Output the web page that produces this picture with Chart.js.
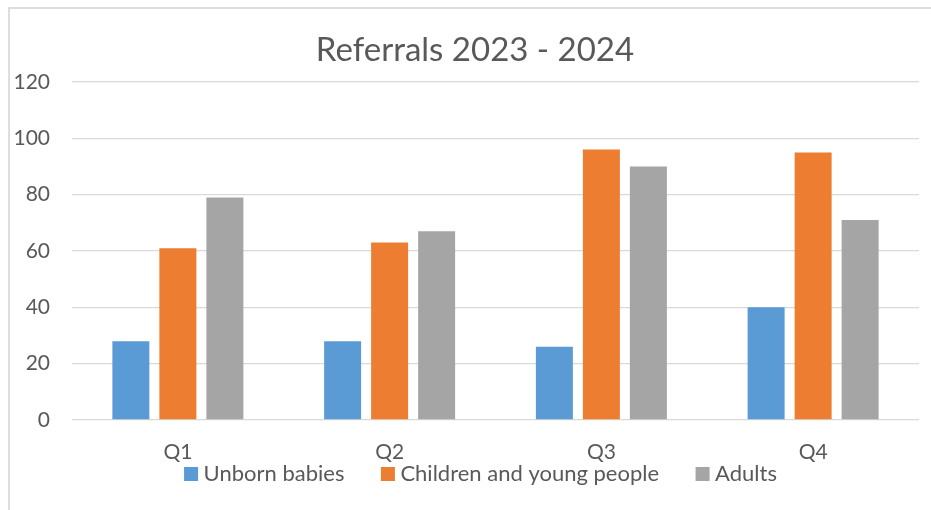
<!DOCTYPE html>
<html>
<head>
<meta charset="utf-8">
<script src="https://cdn.jsdelivr.net/npm/chart.js@4"></script>
<style>
  body { margin: 0; background: #fff; overflow: hidden; }
  .marco { position: absolute; left: 8px; top: 7px; width: 1000px; height: 600px; border: 2px solid #dedede; }
  .contenedor { position: absolute; left: 0; top: 0; width: 931px; height: 510px; }
</style>
</head>
<body>
<div class="marco"></div>
<div class="contenedor"><canvas id="graficaReferrals"></canvas></div>
<script>
const trimestres = ['Q1', 'Q2', 'Q3', 'Q4'];
const unbornBabies = [28, 28, 26, 40];
const childrenYoungPeople = [61, 63, 96, 95];
const adults = [79, 67, 90, 71];
const ticksEjeY = [0, 20, 40, 60, 80, 100, 120];

const colorTexto = '#595959';
const fuente = 'Lato, "Open Sans", sans-serif';

// leyenda dibujada a mano: cuadro pegado al texto, como en Excel
const leyenda = {
  id: 'leyenda',
  afterLayout(chart) {
    // que las etiquetas del eje Y no se recorten en el margen izquierdo
    chart.scales.y.left = 0;
  },
  afterDraw(chart) {
    const ctx = chart.ctx;
    const series = chart.data.datasets;
    const caja = 14, hueco = 5.5, separacion = 36.5;
    const centroX = 480.5, centroY = 474;

    ctx.save();
    ctx.font = '22px ' + fuente;
    ctx.textBaseline = 'middle';
    ctx.textAlign = 'left';
    const anchos = series.map(s => ctx.measureText(s.label).width);
    const total = anchos.reduce((a, b) => a + b, 0) + series.length * (caja + hueco) + (series.length - 1) * separacion;
    let x = centroX - total / 2;
    series.forEach((s, i) => {
      ctx.fillStyle = s.backgroundColor;
      ctx.fillRect(x, centroY - caja / 2, caja, caja);
      x += caja + hueco;
      ctx.fillStyle = colorTexto;
      ctx.fillText(s.label, x, centroY);
      x += anchos[i] + separacion;
    });
    ctx.restore();
  }
};

function crearGrafica() {
  const graficaReferrals = document.getElementById('graficaReferrals');

  const data = {
    labels: trimestres,
    datasets: [
      { label: 'Unborn babies', data: unbornBabies, backgroundColor: '#5b9bd5' },
      { label: 'Children and young people', data: childrenYoungPeople, backgroundColor: '#ed7d31' },
      { label: 'Adults', data: adults, backgroundColor: '#a5a5a5' }
    ]
  };

  const options = {
    responsive: true,
    maintainAspectRatio: false,
    animation: false,
    categoryPercentage: 0.666,
    barPercentage: 0.787,
    layout: { padding: { left: 31, right: 12, top: 0, bottom: 46 } },
    plugins: {
      legend: { display: false },
      tooltip: { enabled: false },
      title: {
        display: true,
        text: 'Referrals 2023 - 2024',
        color: colorTexto,
        font: { family: fuente, size: 33, weight: 'normal' },
        padding: { top: 30.9, bottom: 11.5 }
      }
    },
    scales: {
      x: {
        grid: { display: false, drawTicks: false },
        border: { display: false },
        ticks: { color: colorTexto, font: { family: fuente, size: 21 }, padding: 19.4 },
        afterFit: eje => { eje.height = 44; }
      },
      y: {
        min: 0,
        max: 120,
        grid: { color: '#d9d9d9', lineWidth: 1.3, drawTicks: false },
        border: { display: false },
        ticks: { color: colorTexto, font: { family: fuente, size: 21 }, padding: 22 },
        afterBuildTicks: eje => { eje.ticks = ticksEjeY.map(v => ({ value: v })); },
        afterFit: eje => { eje.width = 41; }
      }
    }
  };

  new Chart(graficaReferrals, { type: 'bar', data: data, options: options, plugins: [leyenda] });
}

crearGrafica();
</script>
</body>
</html>
